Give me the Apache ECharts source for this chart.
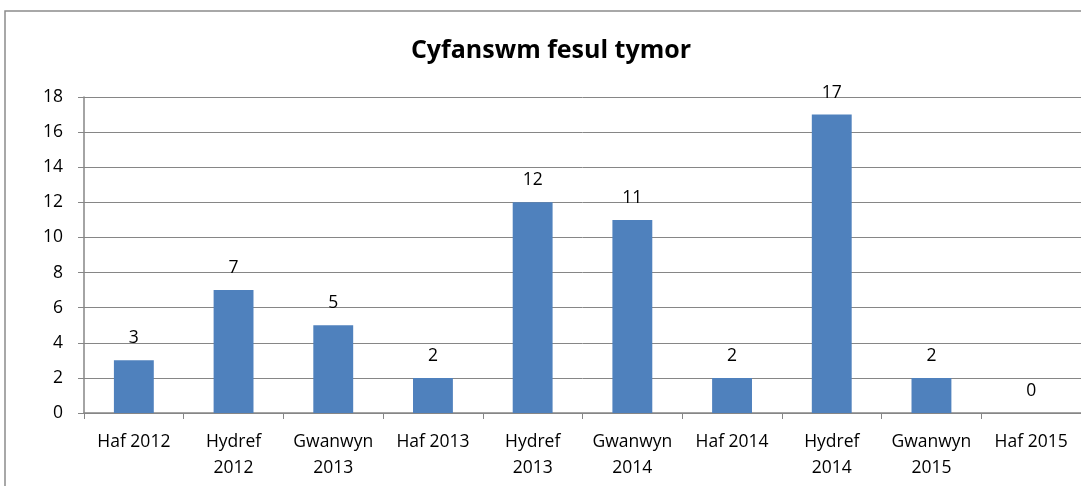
<!DOCTYPE html>
<html>
<head>
<meta charset="utf-8">
<script src="https://cdn.jsdelivr.net/npm/echarts@6/dist/echarts.min.js"></script>
<style>
    html, body { margin: 0; padding: 0; background: #fff; }
    #main { width: 1081px; height: 486px; }
</style>
</head>
<body>
<div id="main"></div>
<script>
    // tymhorau (categories)
    var tymhorau = ['Haf 2012', 'Hydref\n2012', 'Gwanwyn\n2013', 'Haf 2013', 'Hydref\n2013',
        'Gwanwyn\n2014', 'Haf 2014', 'Hydref\n2014', 'Gwanwyn\n2015', 'Haf 2015'];
    var cyfanswm = [3, 7, 5, 2, 12, 11, 2, 17, 2, 0];
    var yTicks = [0, 2, 4, 6, 8, 10, 12, 14, 16, 18];

    var fontFam = '"Open Sans", "Noto Sans", sans-serif';
    var grey = '#868686';

    var myChart = echarts.init(document.getElementById('main'));
    var option = {
        animation: false,
        textStyle: { fontFamily: fontFam },
        graphic: [
            {
                type: 'rect',
                shape: { x: 5, y: 11, width: 1200, height: 600 },
                style: { fill: 'none', stroke: '#8c8c8c', lineWidth: 1.5 },
                silent: true
            }
        ],
        title: {
            text: 'Cyfanswm fesul tymor',
            left: 546,
            top: 33,
            textAlign: 'center',
            textStyle: { fontFamily: fontFam, fontSize: 25, fontWeight: 'bold', color: '#000' }
        },
        grid: { left: 84, right: -6, top: 97, bottom: 73 },
        xAxis: {
            type: 'category',
            data: tymhorau,
            axisLine: { lineStyle: { color: grey, width: 1.5 } },
            axisTick: { show: true, length: 6, lineStyle: { color: grey } },
            axisLabel: {
                interval: 0,
                margin: 16,
                color: '#000',
                fontSize: 17.5,
                lineHeight: 26,
                fontFamily: fontFam
            }
        },
        yAxis: {
            type: 'value',
            min: yTicks[0],
            max: yTicks[yTicks.length - 1],
            interval: yTicks[1] - yTicks[0],
            axisLine: { show: true, lineStyle: { color: grey, width: 1.5 } },
            axisTick: { show: true, length: 6, lineStyle: { color: grey } },
            splitLine: { lineStyle: { color: grey, width: 1 } },
            axisLabel: { margin: 21, color: '#000', fontSize: 17.5, fontFamily: fontFam }
        },
        series: [
            {
                name: 'Cyfanswm',
                type: 'bar',
                data: cyfanswm,
                barWidth: '40%',
                itemStyle: { color: '#4F81BD' },
                label: {
                    show: true,
                    position: 'top',
                    distance: 13,
                    color: '#000',
                    fontSize: 17.5,
                    fontFamily: fontFam
                }
            }
        ]
    };
    myChart.setOption(option);
</script>
</body>
</html>
